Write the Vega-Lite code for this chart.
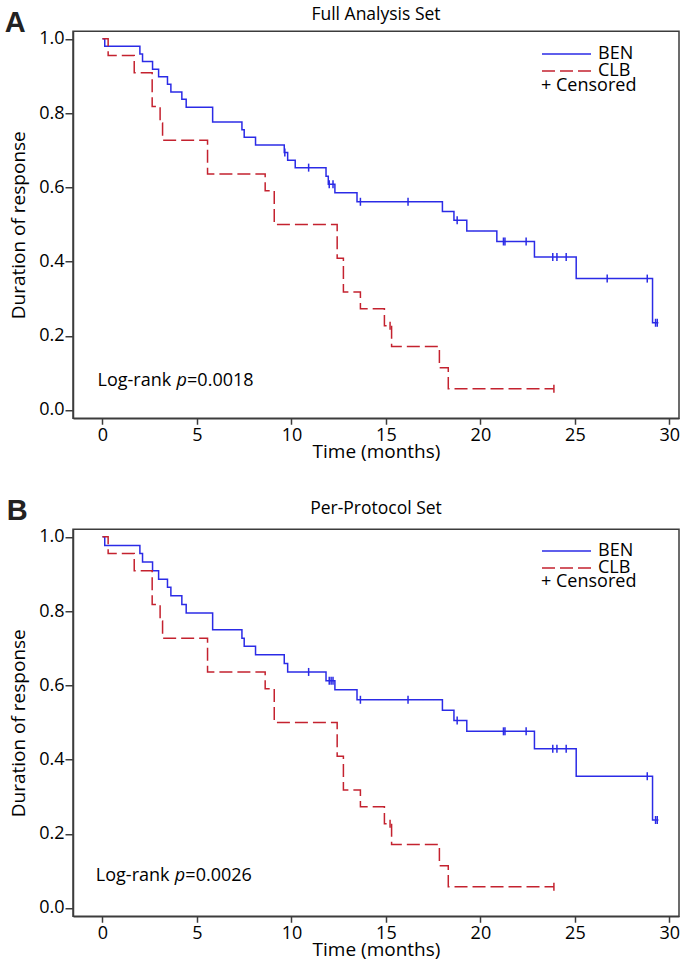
{
  "$schema": "https://vega.github.io/schema/vega-lite/v6.json",
  "background": "white",
  "padding": {"left": 4, "top": 5.25, "right": 5, "bottom": 5},
  "config": {
    "font": "Open Sans",
    "view": {"stroke": "#3c3c3c", "strokeWidth": 1.5},
    "axis": {"grid": false, "domainColor": "#3c3c3c", "domainWidth": 1.5, "tickColor": "#3c3c3c", "tickWidth": 1.5, "labelColor": "black", "titleColor": "black", "labelFont": "Open Sans", "titleFont": "Open Sans", "labelFontSize": 18, "titleFontSize": 19, "titleFontWeight": "normal"},
    "title": {"font": "Open Sans", "fontSize": 17.5, "fontWeight": "normal", "color": "black"},
    "legend": {"labelFont": "Open Sans", "labelFontSize": 18, "labelColor": "black"}
  },
  "datasets": {
    "curves": [
      {"panel": "A", "group": "BEN", "t": 0, "s": 1},
      {"panel": "A", "group": "BEN", "t": 0.12, "s": 0.98},
      {"panel": "A", "group": "BEN", "t": 1.98, "s": 0.959},
      {"panel": "A", "group": "BEN", "t": 2.12, "s": 0.939},
      {"panel": "A", "group": "BEN", "t": 2.65, "s": 0.918},
      {"panel": "A", "group": "BEN", "t": 2.97, "s": 0.898},
      {"panel": "A", "group": "BEN", "t": 3.44, "s": 0.878},
      {"panel": "A", "group": "BEN", "t": 3.62, "s": 0.857},
      {"panel": "A", "group": "BEN", "t": 4.2, "s": 0.837},
      {"panel": "A", "group": "BEN", "t": 4.43, "s": 0.816},
      {"panel": "A", "group": "BEN", "t": 5.83, "s": 0.776},
      {"panel": "A", "group": "BEN", "t": 7.38, "s": 0.755},
      {"panel": "A", "group": "BEN", "t": 7.5, "s": 0.735},
      {"panel": "A", "group": "BEN", "t": 8.1, "s": 0.714},
      {"panel": "A", "group": "BEN", "t": 9.62, "s": 0.694},
      {"panel": "A", "group": "BEN", "t": 9.8, "s": 0.673},
      {"panel": "A", "group": "BEN", "t": 10.2, "s": 0.653},
      {"panel": "A", "group": "BEN", "t": 11.83, "s": 0.63},
      {"panel": "A", "group": "BEN", "t": 11.95, "s": 0.608},
      {"panel": "A", "group": "BEN", "t": 12.3, "s": 0.585},
      {"panel": "A", "group": "BEN", "t": 13.47, "s": 0.561},
      {"panel": "A", "group": "BEN", "t": 17.99, "s": 0.535},
      {"panel": "A", "group": "BEN", "t": 18.6, "s": 0.511},
      {"panel": "A", "group": "BEN", "t": 19.28, "s": 0.482},
      {"panel": "A", "group": "BEN", "t": 20.87, "s": 0.454},
      {"panel": "A", "group": "BEN", "t": 22.86, "s": 0.412},
      {"panel": "A", "group": "BEN", "t": 25.07, "s": 0.354},
      {"panel": "A", "group": "BEN", "t": 29.11, "s": 0.235},
      {"panel": "A", "group": "BEN", "t": 29.42, "s": 0.235},
      {"panel": "A", "group": "CLB", "t": 0, "s": 1},
      {"panel": "A", "group": "CLB", "t": 0.3, "s": 0.955},
      {"panel": "A", "group": "CLB", "t": 1.68, "s": 0.909},
      {"panel": "A", "group": "CLB", "t": 2.63, "s": 0.818},
      {"panel": "A", "group": "CLB", "t": 3.05, "s": 0.773},
      {"panel": "A", "group": "CLB", "t": 3.18, "s": 0.727},
      {"panel": "A", "group": "CLB", "t": 5.56, "s": 0.636},
      {"panel": "A", "group": "CLB", "t": 8.61, "s": 0.591},
      {"panel": "A", "group": "CLB", "t": 9.09, "s": 0.5},
      {"panel": "A", "group": "CLB", "t": 12.42, "s": 0.409},
      {"panel": "A", "group": "CLB", "t": 12.75, "s": 0.318},
      {"panel": "A", "group": "CLB", "t": 13.65, "s": 0.273},
      {"panel": "A", "group": "CLB", "t": 14.92, "s": 0.227},
      {"panel": "A", "group": "CLB", "t": 15.3, "s": 0.171},
      {"panel": "A", "group": "CLB", "t": 17.83, "s": 0.114},
      {"panel": "A", "group": "CLB", "t": 18.3, "s": 0.057},
      {"panel": "A", "group": "CLB", "t": 23.89, "s": 0.057},
      {"panel": "B", "group": "BEN", "t": 0, "s": 1},
      {"panel": "B", "group": "BEN", "t": 0.12, "s": 0.977},
      {"panel": "B", "group": "BEN", "t": 1.98, "s": 0.955},
      {"panel": "B", "group": "BEN", "t": 2.12, "s": 0.932},
      {"panel": "B", "group": "BEN", "t": 2.65, "s": 0.909},
      {"panel": "B", "group": "BEN", "t": 2.97, "s": 0.886},
      {"panel": "B", "group": "BEN", "t": 3.44, "s": 0.864},
      {"panel": "B", "group": "BEN", "t": 3.62, "s": 0.841},
      {"panel": "B", "group": "BEN", "t": 4.2, "s": 0.818},
      {"panel": "B", "group": "BEN", "t": 4.43, "s": 0.795},
      {"panel": "B", "group": "BEN", "t": 5.83, "s": 0.75},
      {"panel": "B", "group": "BEN", "t": 7.38, "s": 0.727},
      {"panel": "B", "group": "BEN", "t": 7.5, "s": 0.705},
      {"panel": "B", "group": "BEN", "t": 8.1, "s": 0.682},
      {"panel": "B", "group": "BEN", "t": 9.62, "s": 0.659},
      {"panel": "B", "group": "BEN", "t": 9.8, "s": 0.636},
      {"panel": "B", "group": "BEN", "t": 11.83, "s": 0.612},
      {"panel": "B", "group": "BEN", "t": 12.3, "s": 0.588},
      {"panel": "B", "group": "BEN", "t": 13.47, "s": 0.561},
      {"panel": "B", "group": "BEN", "t": 17.99, "s": 0.533},
      {"panel": "B", "group": "BEN", "t": 18.6, "s": 0.505},
      {"panel": "B", "group": "BEN", "t": 19.28, "s": 0.476},
      {"panel": "B", "group": "BEN", "t": 22.86, "s": 0.429},
      {"panel": "B", "group": "BEN", "t": 25.07, "s": 0.355},
      {"panel": "B", "group": "BEN", "t": 29.11, "s": 0.237},
      {"panel": "B", "group": "BEN", "t": 29.42, "s": 0.237},
      {"panel": "B", "group": "CLB", "t": 0, "s": 1},
      {"panel": "B", "group": "CLB", "t": 0.3, "s": 0.955},
      {"panel": "B", "group": "CLB", "t": 1.68, "s": 0.909},
      {"panel": "B", "group": "CLB", "t": 2.63, "s": 0.818},
      {"panel": "B", "group": "CLB", "t": 3.05, "s": 0.773},
      {"panel": "B", "group": "CLB", "t": 3.18, "s": 0.727},
      {"panel": "B", "group": "CLB", "t": 5.56, "s": 0.636},
      {"panel": "B", "group": "CLB", "t": 8.61, "s": 0.591},
      {"panel": "B", "group": "CLB", "t": 9.09, "s": 0.5},
      {"panel": "B", "group": "CLB", "t": 12.42, "s": 0.409},
      {"panel": "B", "group": "CLB", "t": 12.75, "s": 0.318},
      {"panel": "B", "group": "CLB", "t": 13.65, "s": 0.273},
      {"panel": "B", "group": "CLB", "t": 14.92, "s": 0.227},
      {"panel": "B", "group": "CLB", "t": 15.3, "s": 0.171},
      {"panel": "B", "group": "CLB", "t": 17.83, "s": 0.114},
      {"panel": "B", "group": "CLB", "t": 18.3, "s": 0.057},
      {"panel": "B", "group": "CLB", "t": 23.89, "s": 0.057}
    ],
    "censors": [
      {"panel": "A", "group": "BEN", "t": 9.65, "s": 0.694},
      {"panel": "A", "group": "BEN", "t": 10.91, "s": 0.653},
      {"panel": "A", "group": "BEN", "t": 12.0, "s": 0.608},
      {"panel": "A", "group": "BEN", "t": 12.2, "s": 0.608},
      {"panel": "A", "group": "BEN", "t": 13.65, "s": 0.561},
      {"panel": "A", "group": "BEN", "t": 16.17, "s": 0.561},
      {"panel": "A", "group": "BEN", "t": 18.77, "s": 0.511},
      {"panel": "A", "group": "BEN", "t": 21.22, "s": 0.454},
      {"panel": "A", "group": "BEN", "t": 21.3, "s": 0.454},
      {"panel": "A", "group": "BEN", "t": 22.42, "s": 0.454},
      {"panel": "A", "group": "BEN", "t": 23.83, "s": 0.412},
      {"panel": "A", "group": "BEN", "t": 24.05, "s": 0.412},
      {"panel": "A", "group": "BEN", "t": 24.54, "s": 0.412},
      {"panel": "A", "group": "BEN", "t": 26.71, "s": 0.354},
      {"panel": "A", "group": "BEN", "t": 28.83, "s": 0.354},
      {"panel": "A", "group": "BEN", "t": 29.27, "s": 0.235},
      {"panel": "A", "group": "BEN", "t": 29.36, "s": 0.235},
      {"panel": "A", "group": "CLB", "t": 15.22, "s": 0.227},
      {"panel": "A", "group": "CLB", "t": 23.89, "s": 0.057},
      {"panel": "B", "group": "BEN", "t": 10.91, "s": 0.636},
      {"panel": "B", "group": "BEN", "t": 12.0, "s": 0.612},
      {"panel": "B", "group": "BEN", "t": 12.1, "s": 0.612},
      {"panel": "B", "group": "BEN", "t": 12.2, "s": 0.612},
      {"panel": "B", "group": "BEN", "t": 13.65, "s": 0.561},
      {"panel": "B", "group": "BEN", "t": 16.17, "s": 0.561},
      {"panel": "B", "group": "BEN", "t": 18.77, "s": 0.505},
      {"panel": "B", "group": "BEN", "t": 21.22, "s": 0.476},
      {"panel": "B", "group": "BEN", "t": 21.3, "s": 0.476},
      {"panel": "B", "group": "BEN", "t": 22.42, "s": 0.476},
      {"panel": "B", "group": "BEN", "t": 23.83, "s": 0.429},
      {"panel": "B", "group": "BEN", "t": 24.05, "s": 0.429},
      {"panel": "B", "group": "BEN", "t": 24.54, "s": 0.429},
      {"panel": "B", "group": "BEN", "t": 28.83, "s": 0.355},
      {"panel": "B", "group": "BEN", "t": 29.27, "s": 0.237},
      {"panel": "B", "group": "BEN", "t": 29.36, "s": 0.237},
      {"panel": "B", "group": "CLB", "t": 15.22, "s": 0.227},
      {"panel": "B", "group": "CLB", "t": 23.89, "s": 0.057}
    ]
  },
  "spacing": 111,
  "bounds": "flush",
  "resolve": {"legend": {"color": "independent", "strokeDash": "independent"}},
  "vconcat": [
    {
      "width": 606,
      "height": 387,
      "title": {"text": "Full Analysis Set", "offset": -14.75, "frame": "group"},
      "layer": [
        {
          "data": {"name": "curves"},
          "transform": [{"filter": "datum.panel === 'A'"}],
          "mark": {"type": "line", "interpolate": "step-after", "strokeWidth": 1.5},
          "encoding": {
            "x": {"field": "t", "type": "quantitative", "scale": {"domain": [-1.56, 30.51], "nice": false, "zero": false}, "axis": {"values": [0, 5, 10, 15, 20, 25, 30], "title": "Time (months)", "tickSize": 6, "labelPadding": 2, "titlePadding": -2}},
            "y": {"field": "s", "type": "quantitative", "scale": {"domain": [-0.0223, 1.0205], "nice": false, "zero": false}, "axis": {"values": [0, 0.2, 0.4, 0.6, 0.8, 1], "format": ".1f", "title": "Duration of response", "tickSize": 8, "labelPadding": 1, "titleX": -55, "titleBaseline": "middle"}},
            "color": {"field": "group", "type": "nominal", "scale": {"domain": ["BEN", "CLB"], "range": ["#2b2be6", "#c4222f"]}, "legend": {"orient": "none", "legendX": 468, "legendY": 15, "title": null, "symbolType": "stroke", "symbolSize": 2401, "symbolStrokeWidth": 1.5, "labelOffset": 6, "clipHeight": 15.6, "rowPadding": -2.4, "padding": 0}},
            "strokeDash": {"field": "group", "type": "nominal", "scale": {"domain": ["BEN", "CLB"], "range": [[1, 0], [13, 5]]}, "legend": {"orient": "none", "legendX": 468, "legendY": 15, "title": null, "symbolType": "stroke", "symbolSize": 2401, "symbolStrokeWidth": 1.5, "labelOffset": 6, "clipHeight": 15.6, "rowPadding": -2.4, "padding": 0}}
          }
        },
        {
          "data": {"name": "censors"},
          "transform": [{"filter": "datum.panel === 'A'"}],
          "mark": {"type": "point", "shape": "M0,-1L0,1", "size": 64, "filled": false, "strokeWidth": 1.5, "opacity": 1},
          "encoding": {
            "x": {"field": "t", "type": "quantitative"},
            "y": {"field": "s", "type": "quantitative"},
            "color": {"field": "group", "type": "nominal", "legend": null}
          }
        },
        {
          "data": {"values": [{}]},
          "mark": {"type": "text", "text": "+ Censored", "align": "left", "baseline": "middle", "fontSize": 18, "color": "black"},
          "encoding": {"x": {"datum": 23.21}, "y": {"datum": 0.872}}
        },
        {
          "data": {"values": [{}]},
          "mark": {"type": "text", "text": "Log-rank", "align": "left", "baseline": "middle", "fontSize": 18, "color": "black"},
          "encoding": {"x": {"datum": -0.26}, "y": {"datum": 0.078}}
        },
        {
          "data": {"values": [{}]},
          "mark": {"type": "text", "text": "p", "align": "left", "baseline": "middle", "fontSize": 18, "fontStyle": "italic", "dx": 79, "color": "black"},
          "encoding": {"x": {"datum": -0.26}, "y": {"datum": 0.078}}
        },
        {
          "data": {"values": [{}]},
          "mark": {"type": "text", "text": "=0.0018", "align": "left", "baseline": "middle", "fontSize": 18, "dx": 89.5, "color": "black"},
          "encoding": {"x": {"datum": -0.26}, "y": {"datum": 0.078}}
        },
        {
          "data": {"values": [{}]},
          "mark": {"type": "text", "text": "A", "align": "left", "baseline": "alphabetic", "fontSize": 29, "font": "Liberation Sans", "fontWeight": "bold", "color": "#222222"},
          "encoding": {"x": {"datum": -5.17}, "y": {"datum": 1.019}}
        }
      ]
    },
    {
      "width": 606,
      "height": 387,
      "title": {"text": "Per-Protocol Set", "offset": -20.35, "frame": "group"},
      "layer": [
        {
          "data": {"name": "curves"},
          "transform": [{"filter": "datum.panel === 'B'"}],
          "mark": {"type": "line", "interpolate": "step-after", "strokeWidth": 1.5},
          "encoding": {
            "x": {"field": "t", "type": "quantitative", "scale": {"domain": [-1.56, 30.51], "nice": false, "zero": false}, "axis": {"values": [0, 5, 10, 15, 20, 25, 30], "title": "Time (months)", "tickSize": 6, "labelPadding": 2, "titlePadding": -2}},
            "y": {"field": "s", "type": "quantitative", "scale": {"domain": [-0.0223, 1.0205], "nice": false, "zero": false}, "axis": {"values": [0, 0.2, 0.4, 0.6, 0.8, 1], "format": ".1f", "title": "Duration of response", "tickSize": 8, "labelPadding": 1, "titleX": -55, "titleBaseline": "middle"}},
            "color": {"field": "group", "type": "nominal", "scale": {"domain": ["BEN", "CLB"], "range": ["#2b2be6", "#c4222f"]}, "legend": {"orient": "none", "legendX": 468, "legendY": 14, "title": null, "symbolType": "stroke", "symbolSize": 2401, "symbolStrokeWidth": 1.5, "labelOffset": 6, "clipHeight": 15.6, "rowPadding": -2.4, "padding": 0}},
            "strokeDash": {"field": "group", "type": "nominal", "scale": {"domain": ["BEN", "CLB"], "range": [[1, 0], [13, 5]]}, "legend": {"orient": "none", "legendX": 468, "legendY": 14, "title": null, "symbolType": "stroke", "symbolSize": 2401, "symbolStrokeWidth": 1.5, "labelOffset": 6, "clipHeight": 15.6, "rowPadding": -2.4, "padding": 0}}
          }
        },
        {
          "data": {"name": "censors"},
          "transform": [{"filter": "datum.panel === 'B'"}],
          "mark": {"type": "point", "shape": "M0,-1L0,1", "size": 64, "filled": false, "strokeWidth": 1.5, "opacity": 1},
          "encoding": {
            "x": {"field": "t", "type": "quantitative"},
            "y": {"field": "s", "type": "quantitative"},
            "color": {"field": "group", "type": "nominal", "legend": null}
          }
        },
        {
          "data": {"values": [{}]},
          "mark": {"type": "text", "text": "+ Censored", "align": "left", "baseline": "middle", "fontSize": 18, "color": "black"},
          "encoding": {"x": {"datum": 23.21}, "y": {"datum": 0.878}}
        },
        {
          "data": {"values": [{}]},
          "mark": {"type": "text", "text": "Log-rank", "align": "left", "baseline": "middle", "fontSize": 18, "color": "black"},
          "encoding": {"x": {"datum": -0.35}, "y": {"datum": 0.087}}
        },
        {
          "data": {"values": [{}]},
          "mark": {"type": "text", "text": "p", "align": "left", "baseline": "middle", "fontSize": 18, "fontStyle": "italic", "dx": 79, "color": "black"},
          "encoding": {"x": {"datum": -0.35}, "y": {"datum": 0.087}}
        },
        {
          "data": {"values": [{}]},
          "mark": {"type": "text", "text": "=0.0026", "align": "left", "baseline": "middle", "fontSize": 18, "dx": 89.5, "color": "black"},
          "encoding": {"x": {"datum": -0.35}, "y": {"datum": 0.087}}
        },
        {
          "data": {"values": [{}]},
          "mark": {"type": "text", "text": "B", "align": "left", "baseline": "alphabetic", "fontSize": 29, "font": "Liberation Sans", "fontWeight": "bold", "color": "#222222"},
          "encoding": {"x": {"datum": -5.07}, "y": {"datum": 1.045}}
        }
      ]
    }
  ]
}
